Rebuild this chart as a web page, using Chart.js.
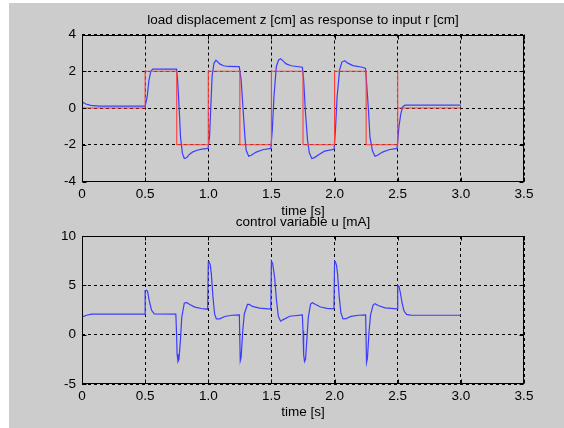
<!DOCTYPE html>
<html>
<head>
<meta charset="utf-8">
<script src="https://cdn.jsdelivr.net/npm/chart.js@4"></script>
<style>
  html, body { margin: 0; padding: 0; background: #fff; }
  #fig { position: absolute; left: 9px; top: 3px; width: 555px; height: 425px; background: #cccccc; }
  canvas { position: absolute; left: 0; }
</style>
</head>
<body>
<div id="fig"></div>
<canvas id="topChart" width="564" height="224" style="top:0px"></canvas>
<canvas id="bottomChart" width="564" height="228" style="top:200px"></canvas>
<script>
// input r [cm]
const rTime = [0, 0.5, 0.5, 0.75, 0.75, 1, 1, 1.25, 1.25, 1.5, 1.5, 1.75, 1.75, 2, 2, 2.25, 2.25, 2.5, 2.5, 2.5, 3];
const rValues = [0, 0, 2, 2, -2, -2, 2, 2, -2, -2, 2, 2, -2, -2, 2, 2, -2, -2, 2, 0, 0];

// load displacement z [cm]
const zTime = [0, 0.03, 0.07, 0.14, 0.5, 0.516, 0.53, 0.545, 0.56, 0.6, 0.749, 0.757, 0.77, 0.78, 0.795, 0.81, 0.83, 0.85, 0.875, 0.91, 0.95, 0.998,
  1.01, 1.02, 1.03, 1.045, 1.06, 1.07, 1.09, 1.12, 1.16, 1.245, 1.26, 1.275, 1.29, 1.3, 1.32, 1.34, 1.38, 1.43, 1.495,
  1.507, 1.52, 1.539, 1.557, 1.573, 1.59, 1.617, 1.656, 1.745, 1.755, 1.77, 1.786, 1.8, 1.82, 1.84, 1.877, 1.92, 1.996,
  2.007, 2.02, 2.04, 2.058, 2.08, 2.105, 2.145, 2.22, 2.245, 2.256, 2.27, 2.28, 2.3, 2.32, 2.34, 2.38, 2.43, 2.495,
  2.51, 2.525, 2.54, 2.558, 3];
const zValues = [0.34, 0.22, 0.14, 0.1, 0.1, 0.6, 1.5, 2.0, 2.12, 2.12, 2.12, 1.53, -0.1, -1.57, -2.47, -2.75, -2.7, -2.53, -2.4, -2.3, -2.24, -2.2,
  -1.57, 0.07, 1.7, 2.44, 2.59, 2.55, 2.4, 2.3, 2.26, 2.25, 1.53, 0, -1.57, -2.3, -2.62, -2.57, -2.4, -2.27, -2.2,
  -1.2, 0.62, 2.26, 2.62, 2.68, 2.58, 2.4, 2.3, 2.22, 1.53, -0.3, -1.75, -2.44, -2.75, -2.7, -2.53, -2.35, -2.25,
  -1.2, 0.62, 2.08, 2.5, 2.57, 2.44, 2.31, 2.22, 2.15, 1.16, -0.3, -1.57, -2.33, -2.62, -2.57, -2.4, -2.27, -2.2,
  -1.0, -0.3, 0.07, 0.16, 0.16];

// control variable u [mA]
const uTime = [0, 0, 0.037, 0.076, 0.5, 0.5, 0.51, 0.519, 0.532, 0.55, 0.572, 0.743, 0.748, 0.753, 0.76, 0.768, 0.779, 0.79, 0.81, 0.827, 0.853, 0.893, 0.945, 0.995,
  1.0, 1.006, 1.016, 1.024, 1.037, 1.05, 1.064, 1.09, 1.13, 1.186, 1.246, 1.253, 1.26, 1.273, 1.285, 1.31, 1.325, 1.35, 1.406, 1.495,
  1.5, 1.51, 1.525, 1.54, 1.555, 1.573, 1.59, 1.645, 1.745, 1.75, 1.755, 1.762, 1.77, 1.78, 1.792, 1.81, 1.825, 1.85, 1.89, 1.94, 1.995,
  2.0, 2.006, 2.016, 2.024, 2.037, 2.05, 2.067, 2.09, 2.13, 2.19, 2.246, 2.253, 2.26, 2.273, 2.285, 2.305, 2.32, 2.345, 2.4, 2.495,
  2.5, 2.51, 2.52, 2.535, 2.55, 2.57, 2.6, 3.0];
const uValues = [0, 1.8, 1.97, 2.08, 2.08, 4.45, 4.5, 4.4, 3.47, 2.5, 2.1, 2.08, 0.4, -1.97, -2.72, -2.5, -0.6, 1.77, 3.2, 3.27, 3.06, 2.79, 2.65, 2.58,
  7.38, 7.4, 7.04, 6.19, 3.81, 2.1, 1.6, 1.6, 1.84, 1.97, 2.0, -2.65, -2.3, 0.4, 2.1, 3.06, 3.06, 2.86, 2.69, 2.58,
  7.45, 7.2, 5.85, 3.47, 1.84, 1.36, 1.5, 1.87, 2.0, 0.4, -2.0, -2.72, -2.5, -0.6, 1.77, 3.1, 3.23, 3.05, 2.8, 2.67, 2.62,
  7.45, 7.4, 7.0, 6.1, 3.8, 2.2, 1.6, 1.62, 1.85, 1.97, 2.0, -2.82, -2.4, 0.3, 2.0, 3.0, 3.13, 2.95, 2.72, 2.62,
  5.0, 4.9, 4.3, 3.2, 2.4, 2.05, 1.98, 1.97];

const blue = 'rgb(60, 60, 255)';
const red = 'rgb(255, 60, 60)';

Chart.defaults.font.family = '"Liberation Sans", Arial, sans-serif';
Chart.defaults.font.size = 13.5;
Chart.defaults.color = '#000';

function toPoints(xs, ys) {
  return xs.map((x, i) => ({x: x, y: ys[i]}));
}

// matlab style box with inward ticks
const boxPlugin = {
  id: 'box',
  afterDraw(chart) {
    const {ctx, chartArea: a, scales} = chart;
    const L = Math.round(a.left) + 0.5, R = Math.round(a.right) - 0.5;
    const T = Math.round(a.top) + 0.5, B = Math.round(a.bottom) - 0.5;
    ctx.save();
    ctx.strokeStyle = '#000';
    ctx.lineWidth = 1;
    ctx.strokeRect(L, T, R - L, B - T);
    ctx.beginPath();
    scales.x.ticks.forEach(t => {
      const px = Math.round(scales.x.getPixelForValue(t.value)) + 0.5;
      ctx.moveTo(px, B); ctx.lineTo(px, B - 4);
      ctx.moveTo(px, T); ctx.lineTo(px, T + 4);
    });
    scales.y.ticks.forEach(t => {
      const py = Math.round(scales.y.getPixelForValue(t.value)) + 0.5;
      ctx.moveTo(L, py); ctx.lineTo(L + 4, py);
      ctx.moveTo(R, py); ctx.lineTo(R - 4, py);
    });
    ctx.stroke();
    ctx.restore();
  }
};

function makeOptions(title, yMin, yMax, yStep, topHeight, titleTop, xHeight, xTitleBottom) {
  return {
    responsive: false,
    animation: false,
    layout: { padding: { left: 0, right: 40, top: 0, bottom: 0 } },
    plugins: {
      title: { display: false },
      legend: { display: false },
      tooltip: { enabled: false }
    },
    elements: { point: { radius: 0 }, line: { tension: 0 } },
    scales: {
      // top axis only carries the subplot title, centred over the axes box
      x2: {
        type: 'linear', position: 'top', min: 0, max: 3.5,
        ticks: { display: false },
        grid: { display: false },
        border: { display: false },
        title: { display: true, text: title, color: '#000', font: { size: 13.5 }, padding: { top: titleTop, bottom: 0 } },
        afterFit(s) { s.height = topHeight; }
      },
      x: {
        type: 'linear', min: 0, max: 3.5,
        ticks: { stepSize: 0.5, padding: 4.5, maxRotation: 0, autoSkip: false, color: '#000' },
        grid: { color: '#000', drawTicks: false, lineWidth: 1 },
        border: { display: false, dash: [3, 3] },
        title: { display: true, text: 'time [s]', color: '#000', font: { size: 13.5 }, padding: { top: 0, bottom: xTitleBottom } },
        afterFit(s) { s.height = xHeight; }
      },
      y: {
        min: yMin, max: yMax,
        ticks: { stepSize: yStep, padding: 6, color: '#000' },
        grid: { color: '#000', drawTicks: false, lineWidth: 1 },
        border: { display: false, dash: [3, 3] },
        afterFit(s) { s.width = 82; }
      }
    }
  };
}

new Chart(document.getElementById('topChart'), {
  type: 'line',
  data: {
    datasets: [
      { data: toPoints(rTime, rValues), borderColor: red, borderWidth: 1.1, fill: false, order: 0 },
      { data: toPoints(zTime, zValues), borderColor: blue, borderWidth: 1.2, fill: false, order: 1 }
    ]
  },
  options: makeOptions('load displacement z [cm] as response to input r [cm]', -4, 4, 2,
    34.5, 12.4, 42.5, 4.9),
  plugins: [boxPlugin]
});

new Chart(document.getElementById('bottomChart'), {
  type: 'line',
  data: {
    datasets: [
      { data: toPoints(uTime, uValues), borderColor: blue, borderWidth: 1.2, fill: false }
    ]
  },
  options: makeOptions('control variable u [mA]', -5, 10, 5,
    36, 13.9, 44, 7.2),
  plugins: [boxPlugin]
});
</script>
</body>
</html>
